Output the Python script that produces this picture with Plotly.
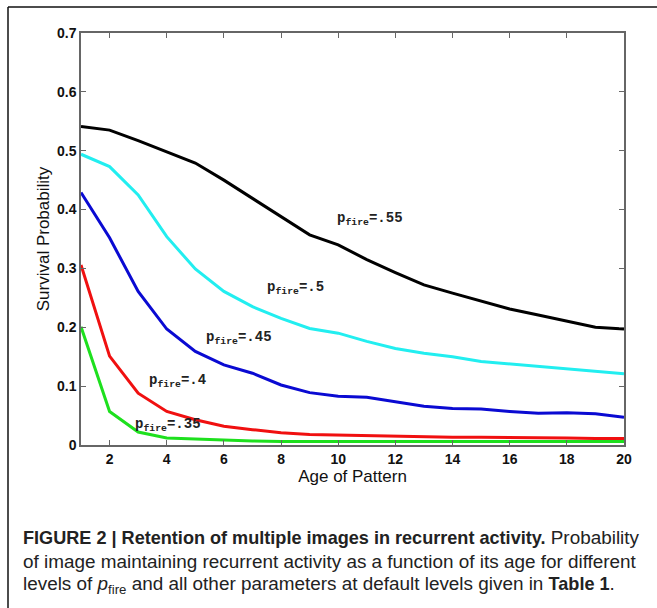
import plotly.graph_objects as go

# Age of pattern (x) and survival probability curves for each p_fire level
age = list(range(1, 21))

p55 = [0.541, 0.535, 0.517, 0.498, 0.479, 0.450, 0.419, 0.388, 0.357, 0.340,
       0.315, 0.293, 0.272, 0.258, 0.245, 0.231, 0.221, 0.211, 0.200, 0.197]
p50 = [0.494, 0.473, 0.425, 0.354, 0.299, 0.261, 0.235, 0.215, 0.198, 0.190,
       0.176, 0.164, 0.156, 0.150, 0.142, 0.138, 0.133, 0.129, 0.125, 0.121]
p45 = [0.429, 0.352, 0.261, 0.197, 0.159, 0.136, 0.122, 0.102, 0.089, 0.083,
       0.081, 0.074, 0.066, 0.062, 0.061, 0.057, 0.054, 0.055, 0.053, 0.047]
p40 = [0.306, 0.151, 0.088, 0.057, 0.043, 0.032, 0.026, 0.021, 0.018, 0.017,
       0.015, 0.014, 0.014, 0.013, 0.013, 0.013, 0.012, 0.012, 0.011, 0.011]
p35 = [0.201, 0.057, 0.022, 0.012, 0.010, 0.008, 0.007, 0.006, 0.006, 0.006,
       0.006, 0.006, 0.006, 0.006, 0.006, 0.006, 0.006, 0.006, 0.006, 0.006]

series = [
    (p55, "#000000", ".55", 9.89, 0.384),
    (p50, "#22eef0", ".5", 7.44, 0.266),
    (p45, "#0a0ad2", ".45", 5.30, 0.181),
    (p40, "#f01010", ".4", 3.31, 0.108),
    (p35, "#1ee01e", ".35", 2.82, 0.034),
]

W, H = 657, 608
L, R, T, B = 81, 33, 33, 163
pw, ph = W - L - R, H - T - B


def px(x):
    return (x - L) / pw


def py(y):
    return (H - B - y) / ph


fig = go.Figure()
for vals, color, lab, lx, ly in series:
    fig.add_trace(go.Scatter(x=age, y=vals, mode="lines",
                             line=dict(color=color, width=3), showlegend=False))
    fig.add_annotation(x=lx, y=ly, xref="x", yref="y", xanchor="left", yanchor="middle",
                       text=f"<b>p<sub>fire</sub>={lab}</b>", showarrow=False,
                       font=dict(family="Liberation Mono, Courier New, monospace",
                                 size=14, color="#222"))

axis_common = dict(showline=True, linecolor="#666", linewidth=1.5, mirror="ticks",
                   ticks="inside", ticklen=5, tickcolor="#666", showgrid=False,
                   zeroline=False,
                   tickfont=dict(family="Liberation Sans, Arial", size=14, color="#111",
                                 weight="bold"),
                   title_font=dict(family="Liberation Sans, Arial", size=17, color="#111"))

fig.update_xaxes(range=[1, 20], tickvals=list(range(2, 21, 2)),
                 title_text="Age of Pattern", title_standoff=3, **axis_common)
fig.update_yaxes(range=[0, 0.7], dtick=0.1, title_text="Survival Probability",
                 title_standoff=3, **axis_common)

# frame lines on the left and top edges
fig.add_shape(type="line", xref="paper", yref="paper", x0=px(8), x1=px(W + 5),
              y0=py(7), y1=py(7), line=dict(color="#111", width=1.5))
fig.add_shape(type="line", xref="paper", yref="paper", x0=px(8), x1=px(8),
              y0=py(7), y1=py(H + 5), line=dict(color="#111", width=1.5))

cap_font = dict(family="Liberation Sans Narrow, Arial Narrow, Liberation Sans, Arial",
                size=18.9, color="#222")
bold = '<b><span style="font-size:18.1px">{}</span></b>'
caption = [
    bold.format("FIGURE 2 | Retention of multiple images in recurrent activity.") + " Probability",
    "of image maintaining recurrent activity as a function of its age for different",
    "levels of <i>p</i><sub>fire</sub> and all other parameters at default levels given in "
    + bold.format("Table 1") + ".",
]
for i, line in enumerate(caption):
    fig.add_annotation(x=px(21), y=py(537 + 24 * i), xref="paper", yref="paper",
                       xanchor="left", yanchor="middle", text=line, showarrow=False,
                       font=cap_font)

fig.update_layout(width=W, height=H, margin=dict(l=L, r=R, t=T, b=B),
                  paper_bgcolor="white", plot_bgcolor="white")

fig.write_html("out.html")
